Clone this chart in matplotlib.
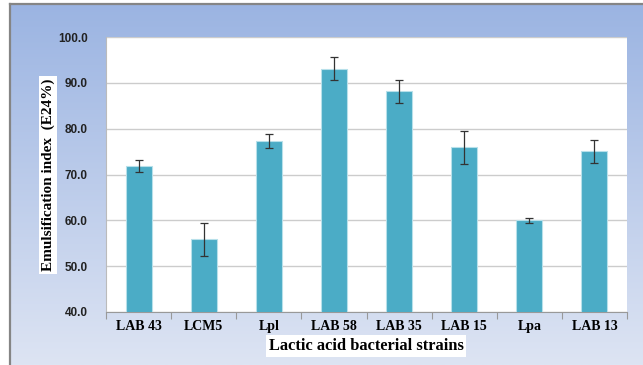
import numpy as np
import matplotlib.pyplot as plt

# Emulsification index (E24%) per strain, mean and error
strains = ['LAB 43', 'LCM5', 'Lpl', 'LAB 58', 'LAB 35', 'LAB 15', 'Lpa', 'LAB 13']
e24 = [71.8, 55.9, 77.3, 93.1, 88.2, 76.0, 60.0, 75.1]
err = [1.3, 3.6, 1.6, 2.5, 2.5, 3.6, 0.5, 2.5]
yticks = [40.0, 50.0, 60.0, 70.0, 80.0, 90.0, 100.0]

fig = plt.figure(figsize=(6.43, 3.65), dpi=100)

# gradient backdrop with a grey frame on the left and top
bg = fig.add_axes([10 / 643, 0, 1 - 10 / 643, 1 - 4 / 365], zorder=0)
grad = np.linspace(0, 1, 256).reshape(-1, 1)
top_c = np.array([0x9b, 0xb4, 0xe2]) / 255
bot_c = np.array([0xdd, 0xe4, 0xf3]) / 255
img = top_c + grad * (bot_c - top_c)
bg.imshow(img.reshape(256, 1, 3), aspect='auto', extent=[0, 1, 0, 1])
bg.set_xlim(0, 1)
bg.set_ylim(0, 1)
bg.set_xticks([])
bg.set_yticks([])
for side in ['right', 'bottom']:
    bg.spines[side].set_visible(False)
for side in ['left', 'top']:
    bg.spines[side].set_color('#858585')
    bg.spines[side].set_linewidth(1.6)

ax = fig.add_axes([106 / 643, 53 / 365, 521 / 643, 275 / 365], zorder=1)
ax.set_facecolor('white')
x = np.arange(len(strains))
ax.bar(x, e24, width=0.4, color='#4bacc6', edgecolor='#b7e0ea', linewidth=0.8, zorder=3)
ax.errorbar(x, e24, yerr=err, fmt='none', ecolor='#333333', elinewidth=0.9,
            capsize=3, capthick=0.9, zorder=4)

ax.set_ylim(40, 100)
ax.set_xlim(-0.5, len(strains) - 0.5)
ax.set_yticks(yticks)
ax.set_yticklabels([f'{v:.1f}' for v in yticks], fontfamily='Liberation Sans',
                   fontweight='bold', fontsize=8.5, color='#222222')
ax.tick_params(axis='y', length=0, pad=13)
ax.yaxis.grid(True, color='#cccccc', linewidth=1.0, zorder=0)
ax.set_axisbelow(True)

ax.set_xticks(x)
ax.set_xticklabels(strains, fontfamily='Liberation Serif', fontweight='bold', fontsize=10)
ax.tick_params(axis='x', length=0, pad=6)
ax.set_xticks(np.arange(-0.5, len(strains)), minor=True)
ax.tick_params(axis='x', which='minor', length=5, color='#999999', width=0.8)

for side in ['top', 'right']:
    ax.spines[side].set_visible(False)
ax.spines['left'].set_color('#bbbbbb')
ax.spines['bottom'].set_color('#999999')

box = dict(facecolor='white', edgecolor='none', pad=2)
fig.text(48 / 643, 1 - 175 / 365, 'Emulsification index  (E24%)', rotation=90,
         ha='center', va='center', fontfamily='Liberation Serif', fontweight='bold',
         fontsize=11, bbox=box)
fig.text(366 / 643, 1 - 346 / 365, 'Lactic acid bacterial strains',
         ha='center', va='center', fontfamily='Liberation Serif', fontweight='bold',
         fontsize=11.8, bbox=box)

fig.savefig('out.png', dpi=100)
